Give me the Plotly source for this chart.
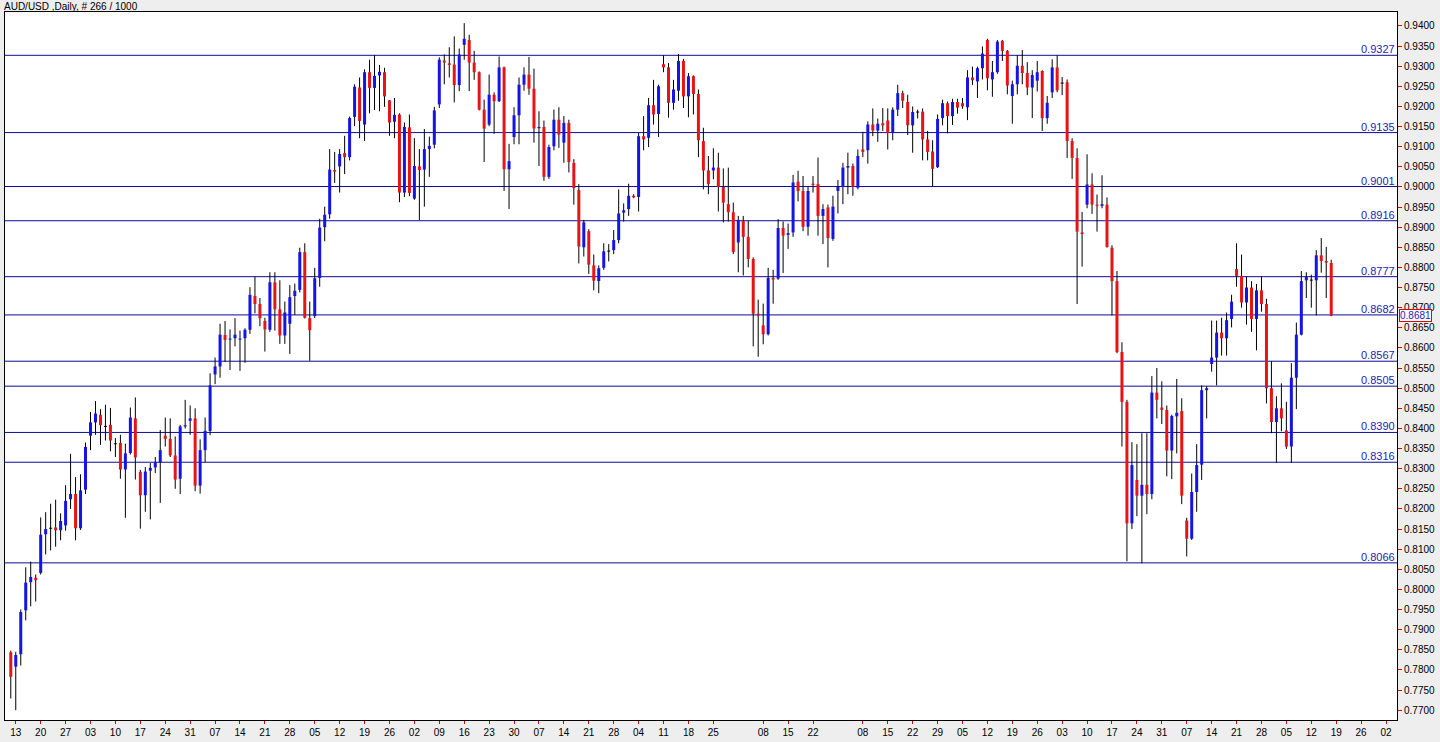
import plotly.graph_objects as go

title_text = "AUD/USD ,Daily, # 266 / 1000"

opens = [
0.7844,0.7808,0.7839,0.7948,0.8018,0.8029,0.8041,0.8137,0.8152,0.8154,
0.8147,0.8159,0.8224,0.8237,0.8152,0.8248,0.8382,0.8415,0.8434,0.8405,
0.8409,0.8362,0.8364,0.8298,0.8339,0.8425,0.8292,0.8234,0.8295,0.8303,
0.8316,0.8382,0.8374,0.8333,0.8275,0.8405,0.8419,0.8425,0.8258,0.8346,
0.8394,0.8534,0.8554,0.8632,0.8621,0.8624,0.8621,0.8624,0.8645,0.8729,
0.8709,0.8667,0.8645,0.8763,0.8696,0.8631,0.8660,0.8729,0.8744,0.8838,
0.8674,0.8679,0.8774,0.8900,0.8932,0.9042,0.9051,0.9084,0.9074,0.9174,
0.9247,0.9155,0.9285,0.9246,0.9277,0.9285,0.9215,0.9162,0.9180,0.8986,
0.9148,0.8971,0.9051,0.9043,0.9094,0.9105,0.9205,0.9314,0.9307,0.9304,
0.9253,0.9353,0.9365,0.9309,0.9285,0.9192,0.9155,0.9229,0.9213,0.9297,
0.9044,0.9124,0.9178,0.9254,0.9279,0.9244,0.9146,0.9149,0.9025,0.9101,
0.9167,0.9110,0.9159,0.9060,0.8992,0.8850,0.8890,0.8805,0.8766,0.8799,
0.8840,0.8843,0.8868,0.8936,0.8945,0.8978,0.8975,0.9126,0.9122,0.9203,
0.9181,0.9305,0.9297,0.9209,0.9239,0.9313,0.9225,0.9275,0.9231,0.9114,
0.9041,0.9041,0.9048,0.9000,0.8957,0.8937,0.8862,0.8916,0.8876,0.8821,
0.8685,0.8656,0.8634,0.8774,0.8772,0.8898,0.8881,0.8887,0.9013,0.8990,
0.8901,0.9008,0.9007,0.8928,0.8949,0.8871,0.8990,0.9000,0.9048,0.9052,
0.8998,0.9093,0.9091,0.9155,0.9140,0.9158,0.9165,0.9134,0.9192,0.9233,
0.9211,0.9153,0.9186,0.9187,0.9118,0.9088,0.9049,0.9171,0.9208,0.9176,
0.9211,0.9208,0.9198,0.9272,0.9262,0.9295,0.9365,0.9267,0.9285,0.9363,
0.9338,0.9226,0.9255,0.9301,0.9283,0.9247,0.9264,0.9288,0.9171,0.9235,
0.9297,0.9258,0.9260,0.9114,0.9072,0.8887,0.8956,0.9006,0.8956,0.8953,
0.8956,0.8849,0.8766,0.8590,0.8466,0.8164,0.8272,0.8233,0.8260,0.8237,
0.8489,0.8452,0.8446,0.8345,0.8430,0.8443,0.8171,0.8126,0.8242,0.8310,
0.8495,0.8560,0.8576,0.8638,0.8624,0.8672,0.8796,0.8779,0.8713,0.8750,
0.8672,0.8743,0.8709,0.8500,0.8416,0.8450,0.8395,0.8355,0.8526,0.8633,
0.8768,0.8768,0.8768,0.8830,0.8816,0.8811]

highs = [
0.7848,0.7845,0.7950,0.8055,0.8069,0.8037,0.8179,0.8192,0.8213,0.8223,
0.8189,0.8259,0.8337,0.8279,0.8286,0.8365,0.8441,0.8468,0.8448,0.8459,
0.8451,0.8376,0.8384,0.8362,0.8452,0.8477,0.8297,0.8304,0.8314,0.8329,
0.8396,0.8427,0.8425,0.8380,0.8409,0.8471,0.8457,0.8450,0.8373,0.8427,
0.8537,0.8576,0.8660,0.8667,0.8646,0.8674,0.8643,0.8649,0.8751,0.8777,
0.8724,0.8675,0.8788,0.8788,0.8768,0.8715,0.8756,0.8760,0.8849,0.8860,
0.8715,0.8799,0.8921,0.8951,0.9094,0.9087,0.9094,0.9127,0.9175,0.9255,
0.9272,0.9292,0.9316,0.9327,0.9303,0.9296,0.9216,0.9221,0.9183,0.9160,
0.9180,0.9121,0.9094,0.9144,0.9125,0.9199,0.9322,0.9329,0.9347,0.9374,
0.9344,0.9407,0.9378,0.9338,0.9287,0.9217,0.9279,0.9235,0.9324,0.9299,
0.9107,0.9198,0.9272,0.9297,0.9323,0.9294,0.9188,0.9165,0.9105,0.9192,
0.9198,0.9176,0.9167,0.9069,0.9007,0.8918,0.8895,0.8832,0.8805,0.8860,
0.8858,0.8893,0.8994,0.8959,0.9008,0.8982,0.9134,0.9176,0.9221,0.9266,
0.9254,0.9327,0.9308,0.9266,0.9330,0.9318,0.9283,0.9277,0.9242,0.9147,
0.9077,0.9096,0.9085,0.9046,0.9048,0.8961,0.8928,0.8928,0.8916,0.8825,
0.8720,0.8710,0.8799,0.8794,0.8920,0.8914,0.8909,0.9030,0.9040,0.9027,
0.9000,0.9027,0.9073,0.8957,0.8956,0.8978,0.9017,0.9060,0.9085,0.9058,
0.9093,0.9137,0.9163,0.9195,0.9170,0.9196,0.9195,0.9198,0.9254,0.9239,
0.9229,0.9200,0.9192,0.9195,0.9139,0.9116,0.9180,0.9217,0.9212,0.9219,
0.9219,0.9221,0.9290,0.9299,0.9299,0.9349,0.9368,0.9313,0.9365,0.9365,
0.9340,0.9264,0.9327,0.9340,0.9310,0.9290,0.9313,0.9290,0.9226,0.9317,
0.9327,0.9273,0.9267,0.9121,0.9096,0.8938,0.9081,0.9034,0.8981,0.9029,
0.8974,0.8855,0.8791,0.8614,0.8471,0.8366,0.8361,0.8388,0.8388,0.8530,
0.8550,0.8517,0.8457,0.8434,0.8523,0.8475,0.8178,0.8288,0.8361,0.8507,
0.8505,0.8668,0.8668,0.8675,0.8688,0.8732,0.8860,0.8832,0.8777,0.8766,
0.8759,0.8777,0.8722,0.8567,0.8480,0.8512,0.8466,0.8562,0.8663,0.8791,
0.8788,0.8782,0.8843,0.8873,0.8851,0.8819]

lows = [
0.7729,0.7700,0.7811,0.7923,0.7958,0.7970,0.8037,0.8087,0.8097,0.8106,
0.8122,0.8146,0.8200,0.8122,0.8148,0.8237,0.8346,0.8384,0.8359,0.8370,
0.8343,0.8329,0.8275,0.8178,0.8335,0.8273,0.8151,0.8193,0.8174,0.8289,
0.8215,0.8355,0.8329,0.8250,0.8237,0.8400,0.8384,0.8244,0.8238,0.8316,
0.8383,0.8510,0.8526,0.8565,0.8545,0.8604,0.8543,0.8563,0.8635,0.8686,
0.8654,0.8591,0.8640,0.8643,0.8610,0.8610,0.8585,0.8682,0.8738,0.8673,
0.8568,0.8674,0.8752,0.8865,0.8921,0.9010,0.8986,0.9032,0.9066,0.9151,
0.9121,0.9114,0.9183,0.9191,0.9188,0.9199,0.9127,0.9121,0.8962,0.8975,
0.8977,0.8968,0.8918,0.8951,0.9025,0.9096,0.9196,0.9255,0.9272,0.9210,
0.9238,0.9316,0.9238,0.9266,0.9190,0.9062,0.9151,0.9132,0.9211,0.8990,
0.8945,0.9106,0.9106,0.9239,0.9229,0.9110,0.9052,0.9015,0.9020,0.9091,
0.9097,0.9060,0.9036,0.8956,0.8810,0.8827,0.8784,0.8743,0.8736,0.8794,
0.8815,0.8833,0.8860,0.8914,0.8928,0.8972,0.8939,0.9091,0.9099,0.9155,
0.9124,0.9285,0.9172,0.9192,0.9214,0.9196,0.9173,0.9180,0.9074,0.8994,
0.8982,0.9019,0.8939,0.8912,0.8914,0.8833,0.8788,0.8780,0.8800,0.8604,
0.8578,0.8609,0.8631,0.8710,0.8769,0.8786,0.8846,0.8876,0.8964,0.8890,
0.8879,0.8986,0.8879,0.8858,0.8800,0.8866,0.8934,0.8957,0.8982,0.8978,
0.8994,0.9074,0.9058,0.9126,0.9112,0.9139,0.9093,0.9116,0.9176,0.9196,
0.9129,0.9085,0.9170,0.9066,0.9066,0.9002,0.9047,0.9153,0.9133,0.9154,
0.9182,0.9194,0.9166,0.9253,0.9221,0.9267,0.9240,0.9224,0.9281,0.9313,
0.9230,0.9157,0.9230,0.9255,0.9228,0.9171,0.9237,0.9139,0.9157,0.9221,
0.9235,0.9228,0.9072,0.9020,0.8709,0.8802,0.8947,0.8933,0.8889,0.8947,
0.8849,0.8681,0.8587,0.8355,0.8070,0.8150,0.8182,0.8065,0.8187,0.8224,
0.8425,0.8411,0.8281,0.8274,0.8338,0.8212,0.8082,0.8123,0.8193,0.8272,
0.8425,0.8541,0.8507,0.8581,0.8581,0.8651,0.8752,0.8700,0.8658,0.8640,
0.8594,0.8690,0.8462,0.8388,0.8315,0.8393,0.8349,0.8315,0.8448,0.8631,
0.8724,0.8700,0.8681,0.8787,0.8724,0.8679]

closes = [
0.7783,0.7837,0.7944,0.8017,0.8031,0.8023,0.8136,0.8150,0.8152,0.8147,
0.8170,0.8220,0.8237,0.8152,0.8246,0.8354,0.8415,0.8437,0.8408,0.8405,
0.8370,0.8362,0.8298,0.8338,0.8427,0.8328,0.8234,0.8293,0.8302,0.8316,
0.8346,0.8374,0.8333,0.8273,0.8405,0.8408,0.8425,0.8258,0.8346,0.8394,
0.8507,0.8554,0.8633,0.8620,0.8623,0.8633,0.8623,0.8645,0.8732,0.8709,
0.8674,0.8646,0.8763,0.8696,0.8631,0.8688,0.8726,0.8742,0.8838,0.8675,
0.8644,0.8773,0.8899,0.8931,0.9043,0.9038,0.9082,0.9074,0.9171,0.9249,
0.9164,0.9285,0.9246,0.9276,0.9286,0.9225,0.9160,0.9179,0.8986,0.9149,
0.8985,0.9052,0.9042,0.9094,0.9102,0.9190,0.9316,0.9309,0.9303,0.9253,
0.9329,0.9368,0.9309,0.9285,0.9192,0.9145,0.9229,0.9213,0.9297,0.9044,
0.9064,0.9178,0.9254,0.9279,0.9244,0.9145,0.9149,0.9025,0.9099,0.9167,
0.9130,0.9159,0.9062,0.8997,0.8852,0.8912,0.8807,0.8767,0.8798,0.8840,
0.8841,0.8868,0.8934,0.8942,0.8978,0.8974,0.9126,0.9118,0.9203,0.9180,
0.9250,0.9297,0.9209,0.9242,0.9313,0.9225,0.9275,0.9231,0.9116,0.9041,
0.9007,0.9048,0.9000,0.8961,0.8937,0.8838,0.8918,0.8876,0.8821,0.8685,
0.8681,0.8634,0.8774,0.8770,0.8898,0.8879,0.8885,0.9011,0.8990,0.8901,
0.8990,0.9005,0.8928,0.8945,0.8873,0.8951,0.9000,0.9048,0.9052,0.9000,
0.9077,0.9087,0.9155,0.9140,0.9157,0.9153,0.9134,0.9192,0.9233,0.9214,
0.9153,0.9186,0.9186,0.9118,0.9087,0.9045,0.9169,0.9208,0.9176,0.9211,
0.9197,0.9200,0.9272,0.9265,0.9295,0.9331,0.9270,0.9285,0.9361,0.9338,
0.9252,0.9255,0.9301,0.9283,0.9247,0.9278,0.9285,0.9171,0.9209,0.9297,
0.9240,0.9258,0.9114,0.9072,0.8889,0.8883,0.9006,0.8956,0.8953,0.8957,
0.8851,0.8766,0.8590,0.8466,0.8164,0.8309,0.8233,0.8260,0.8237,0.8489,
0.8471,0.8446,0.8345,0.8431,0.8439,0.8233,0.8126,0.8242,0.8309,0.8495,
0.8500,0.8576,0.8638,0.8624,0.8669,0.8715,0.8779,0.8713,0.8750,0.8672,
0.8743,0.8709,0.8500,0.8416,0.8450,0.8425,0.8355,0.8526,0.8633,0.8766,
0.8776,0.8769,0.8830,0.8816,0.8812,0.8681]

levels = [0.9327, 0.9135, 0.9001, 0.8916, 0.8777, 0.8682, 0.8567, 0.8505, 0.8390, 0.8316, 0.8066]
last_price = 0.8681

# weekly date labels (Mondays); empty string = label not shown
week_labels = ["13","20","27","03","10","17","24","31","07","14","21","28","05","12","19","26",
               "02","09","16","23","30","07","14","21","28","04","11","18","25","","08","15","22",
               "","08","15","22","29","05","12","19","26","03","10","17","24","31","07","14","21",
               "28","05","12","19","26","02"]

UP = "#1414e6"
DOWN = "#e61414"
DOJI = "#000000"
MIN_BODY = 0.00025

n = len(opens)
idx = list(range(n))

# wicks
wx, wy = [], []
for i in idx:
    wx += [i, i, None]
    wy += [lows[i], highs[i], None]

# bodies, grouped by colour and drawn as thick vertical segments (on top of wicks)
groups = {UP: ([], []), DOWN: ([], []), DOJI: ([], [])}
for i in idx:
    o, c = opens[i], closes[i]
    h = abs(c - o)
    if h < 0.00015:
        col = DOJI
    elif c > o:
        col = UP
    else:
        col = DOWN
    if h < MIN_BODY:
        mid = (o + c) / 2
        y0, y1 = mid - MIN_BODY / 2, mid + MIN_BODY / 2
    else:
        y0, y1 = min(o, c), max(o, c)
    gx, gy = groups[col]
    gx += [i, i, None]
    gy += [y0, y1, None]

fig = go.Figure()
fig.add_trace(go.Scatter(x=wx, y=wy, mode="lines", line=dict(color="black", width=1),
                         hoverinfo="skip", showlegend=False))
for col, (gx, gy) in groups.items():
    fig.add_trace(go.Scatter(x=gx, y=gy, mode="lines", line=dict(color=col, width=3),
                             hoverinfo="skip", showlegend=False))

LEVEL_COL = "#0c0c98"
for lv in levels:
    fig.add_shape(type="line", xref="paper", x0=0, x1=1, yref="y", y0=lv, y1=lv,
                  line=dict(color=LEVEL_COL, width=1), layer="below")
    fig.add_annotation(xref="paper", x=1, xanchor="right", yref="y", y=lv, yanchor="bottom",
                       yshift=-2, text=f"{lv:.4f}", showarrow=False, borderpad=1,
                       font=dict(family="Liberation Sans, Arial, sans-serif", size=11, color="#1c1cb4"))

fig.add_annotation(xref="paper", x=1, xanchor="left", xshift=2, yref="y", y=last_price,
                   yanchor="middle", text=f"{last_price:.4f}", showarrow=False,
                   bordercolor="#e00000", borderwidth=1, borderpad=0, bgcolor="white",
                   font=dict(family="Liberation Sans, Arial, sans-serif", size=10, color="#1c1cb4"))

fig.add_annotation(xref="paper", x=0, xanchor="left", yref="paper", y=1, yanchor="bottom",
                   yshift=-1, xshift=-2, text=title_text, showarrow=False, borderpad=0,
                   font=dict(family="Liberation Sans, Arial, sans-serif", size=10, color="black"))

tickvals = [1 + 5 * w for w, lab in enumerate(week_labels) if lab]
ticktext = [lab for lab in week_labels if lab]

fig.update_layout(
    width=1440, height=742,
    margin=dict(l=4, r=43, t=12, b=19),
    paper_bgcolor="#eeeeee", plot_bgcolor="white",
    showlegend=False,
    xaxis=dict(range=[-1.16, 278.2], tickvals=tickvals, ticktext=ticktext,
               ticks="outside", ticklen=3, tickcolor="#cc0000", showgrid=False, zeroline=False,
               showline=True, linecolor="black", linewidth=1, mirror=True,
               tickfont=dict(family="Liberation Sans, Arial, sans-serif", size=10, color="black")),
    yaxis=dict(side="right", range=[0.76756, 0.94346], tick0=0.77, dtick=0.005, tickformat=".4f",
               ticks="outside", ticklen=4, tickcolor="#cc0000", showgrid=False, zeroline=False,
               showline=True, linecolor="black", linewidth=1, mirror=True,
               tickfont=dict(family="Liberation Sans, Arial, sans-serif", size=10, color="black")),
)

fig.write_html("out.html", config={"displayModeBar": False},
               post_script="document.body.style.margin='0';document.body.style.overflow='hidden';")
